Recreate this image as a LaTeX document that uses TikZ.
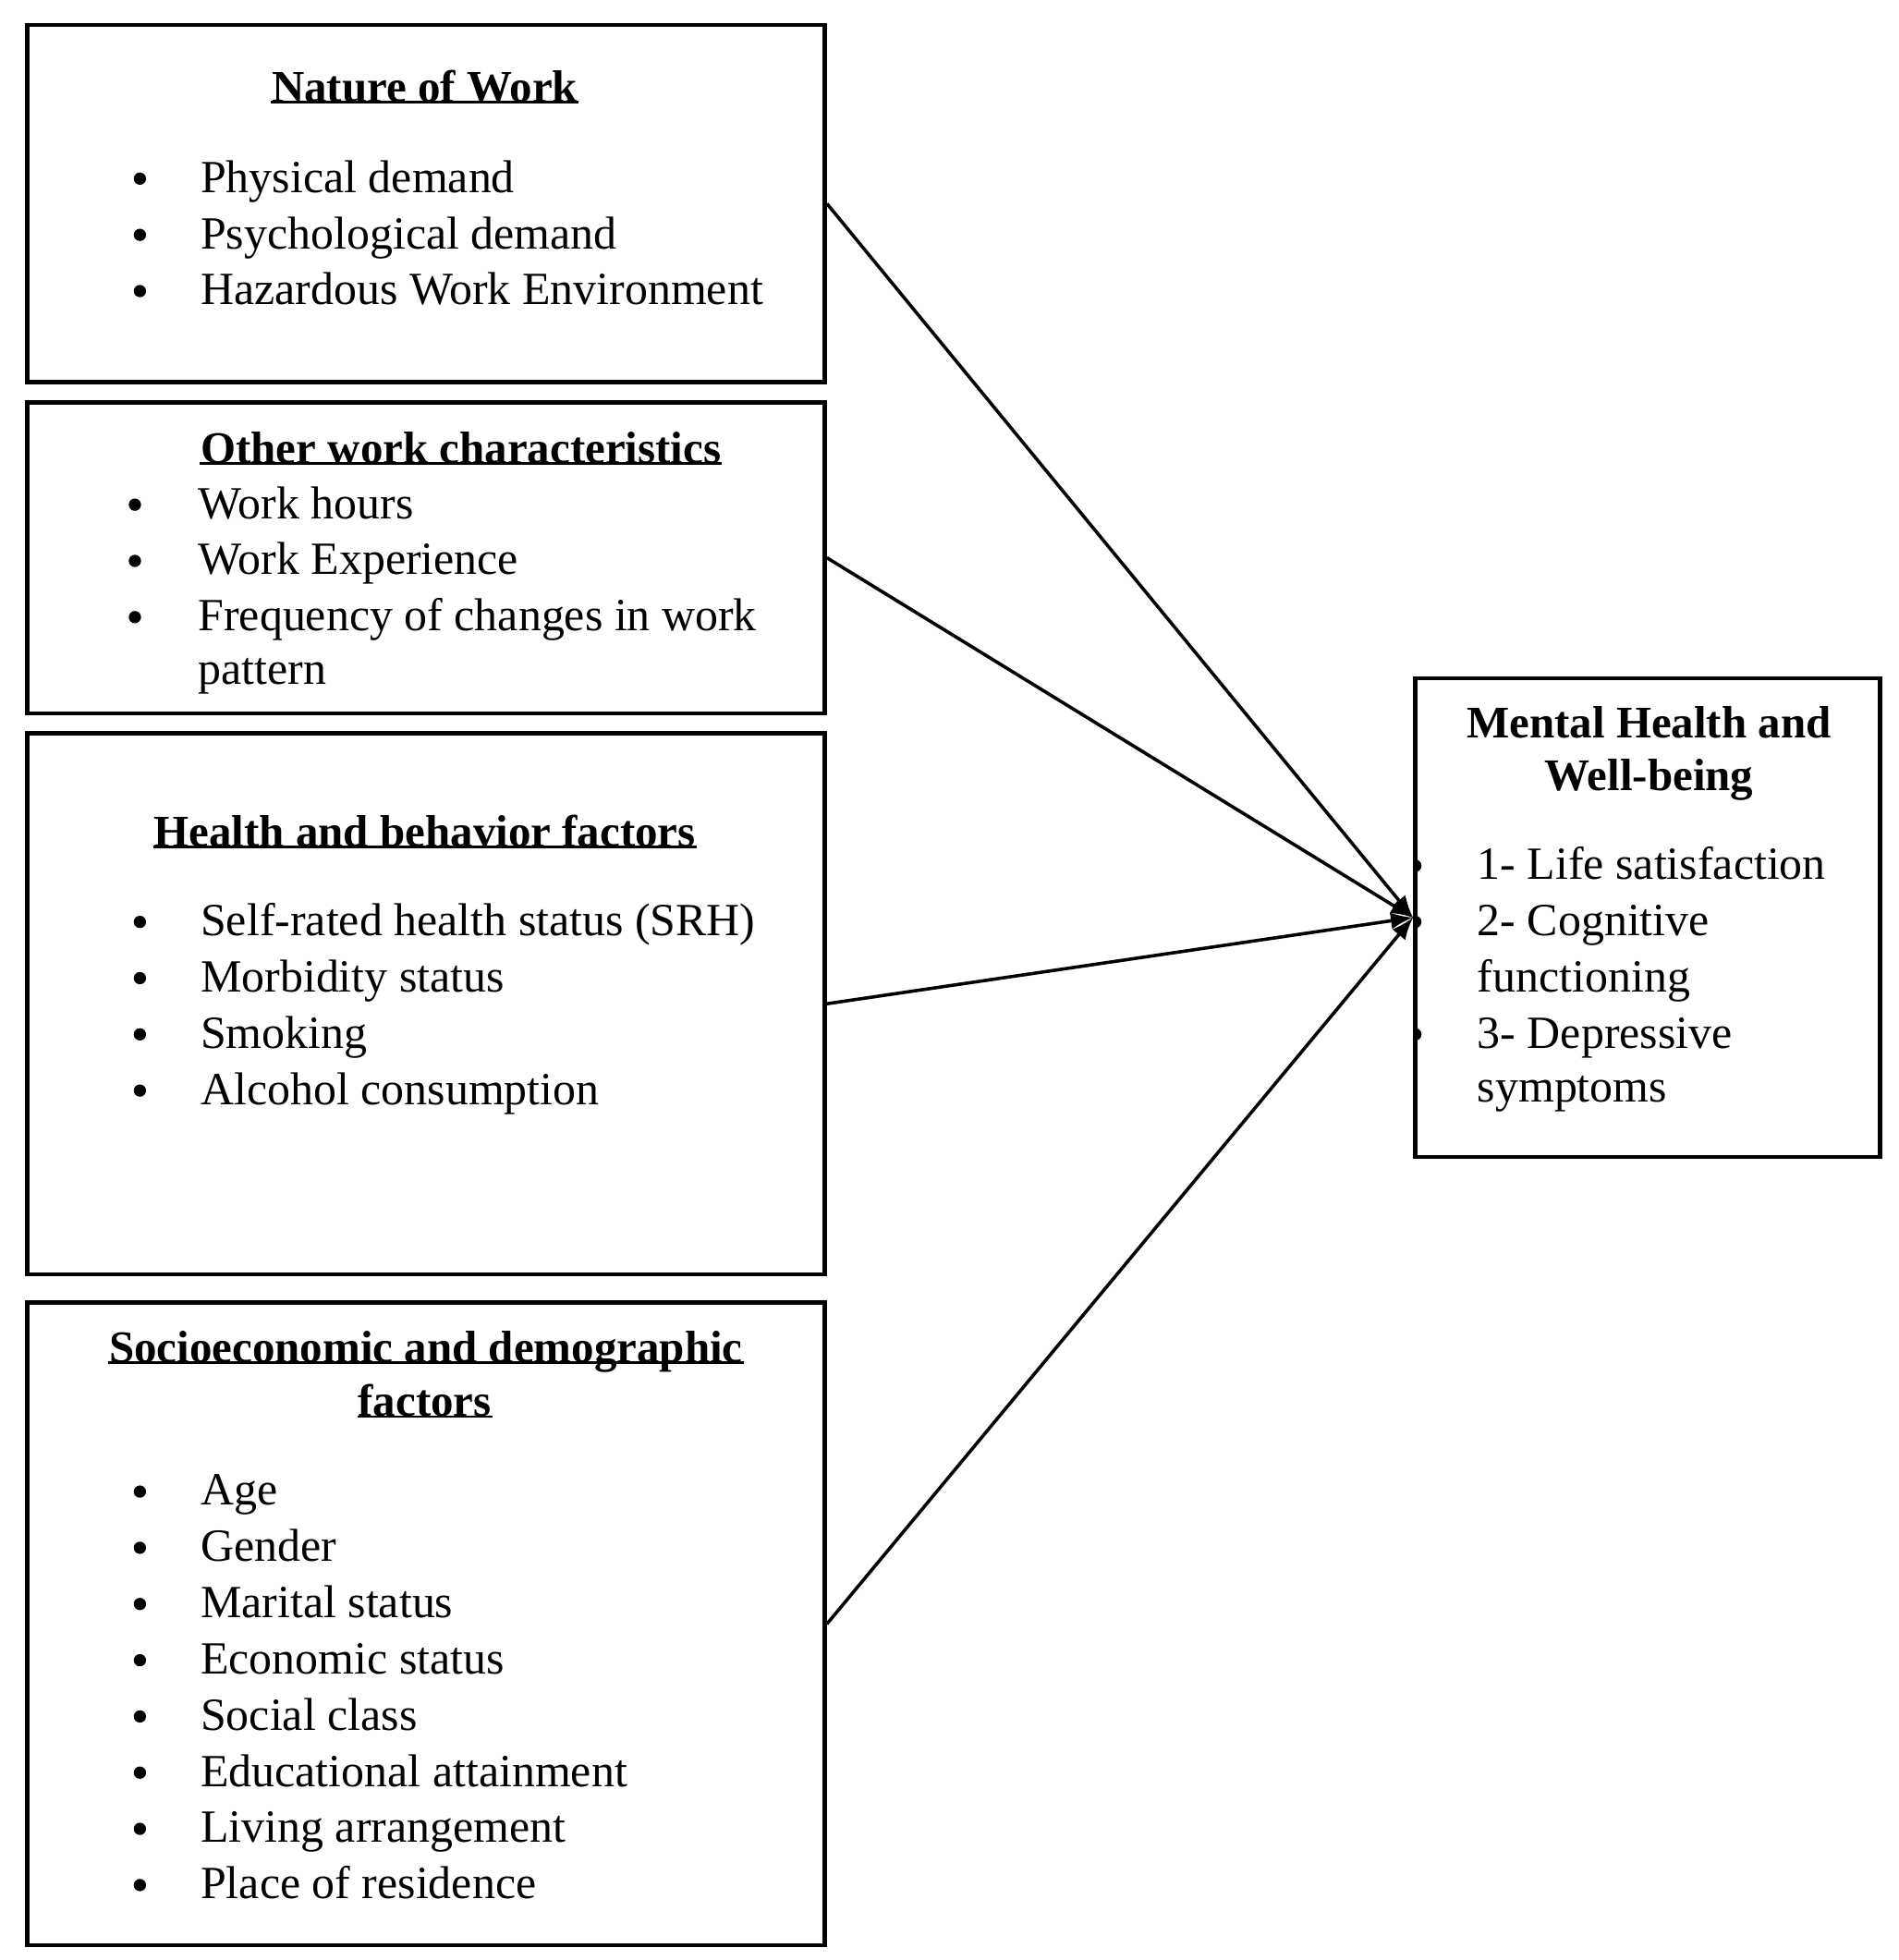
\documentclass[tikz,border=0pt]{standalone}
\usepackage{fontspec}
\setmainfont{Liberation Serif}
\usepackage{tikz}
\usetikzlibrary{arrows}

\begin{document}
\begin{tikzpicture}[x=0.01cm,y=-0.01cm,
    every node/.style={font=\fontsize{10.5}{12.8}\selectfont},
    box/.style={draw,line width=1pt,minimum width=6.38cm,inner sep=0pt},
    head/.style={anchor=base,inner sep=0pt,font=\fontsize{10.3}{12.8}\selectfont\bfseries},
    item/.style={anchor=base west,inner sep=0pt},
    dot/.style={circle,fill,inner sep=0pt,minimum size=2.8pt},
    uline/.style={line width=0.6pt,yshift=-1.8pt}]
              \useasboundingbox (0,0) rectangle (1520,1569);
              % left boxes
              \node[box,minimum height=2.86cm](a)at(341,163){};
              \node[box,minimum height=2.49cm](b)at(341,446.5){};
              \node[box,minimum height=4.33cm](c)at(341,803.5){};
              \node[box,minimum height=5.14cm](d)at(341,1300){};
              % right box
              \node[draw,line width=1pt,minimum width=3.72cm,minimum height=3.83cm,inner sep=0pt](e)at(1319,734.5){};
              % Nature of Work
              \node[head](a0)at(340,82){Nature of Work};
              \draw[uline] (a0.base west)--(a0.base east);
              \node[dot](a1)at(112,143){};
              \node[item](a2)at(160,154){Physical demand};
              \node[dot](a3)at(112,188){};
              \node[item](a4)at(160,199){Psychological demand};
              \node[dot](a5)at(112,233){};
              \node[item](a6)at(160,244){Hazardous Work Environment};
              % Other work characteristics
              \node[head](b0)at(369,371){Other work characteristics};
              \draw[uline] (b0.base west)--(b0.base east);
              \node[dot](b1)at(108,404){};
              \node[item](b2)at(158,415){Work hours};
              \node[dot](b3)at(108,449){};
              \node[item](b4)at(158,460){Work Experience};
              \node[dot](b5)at(108,494){};
              \node[item](b6)at(158,505){Frequency of changes in work};
              \node[item](b7)at(158,548){pattern};
              % Health and behavior factors
              \node[head](c0)at(340,678){Health and behavior factors};
              \draw[uline] (c0.base west)--(c0.base east);
              \node[dot](c1)at(112,738){};
              \node[item](c2)at(160,749){Self-rated health status (SRH)};
              \node[dot](c3)at(112,783){};
              \node[item](c4)at(160,794){Morbidity status};
              \node[dot](c5)at(112,828){};
              \node[item](c6)at(160,839){Smoking};
              \node[dot](c7)at(112,873){};
              \node[item](c8)at(160,884){Alcohol consumption};
              % Socioeconomic and demographic factors
              \node[head](d0)at(341,1091){Socioeconomic and demographic};
              \draw[uline] (d0.base west)--(d0.base east);
              \node[head](d00)at(340,1134){factors};
              \draw[uline] (d00.base west)--(d00.base east);
              \node[dot](d1)at(112,1194){};
              \node[item](d2)at(160,1205){Age};
              \node[dot](d3)at(112,1239){};
              \node[item](d4)at(160,1250){Gender};
              \node[dot](d5)at(112,1284){};
              \node[item](d6)at(160,1295){Marital status};
              \node[dot](d7)at(112,1329){};
              \node[item](d8)at(160,1340){Economic status};
              \node[dot](d9)at(112,1374){};
              \node[item](d10)at(160,1385){Social class};
              \node[dot](d11)at(112,1419){};
              \node[item](d12)at(160,1430){Educational attainment};
              \node[dot](d13)at(112,1464){};
              \node[item](d14)at(160,1475){Living arrangement};
              \node[dot](d15)at(112,1509){};
              \node[item](d16)at(160,1520){Place of residence};
              % Mental Health and Well-being
              \node[head](e0)at(1320,591){Mental Health and};
              \node[head](e00)at(1320,633){Well-being};
              \begin{scope}
              \clip (e.south west) rectangle (e.north east);
              \node[dot](e1)at(1133,693){};
              \node[dot](e3)at(1133,738){};
              \node[dot](e5)at(1133,828){};
              \end{scope}
              \node[item](e2)at(1182,704){1- Life satisfaction};
              \node[item](e4)at(1182,749){2- Cognitive};
              \node[item](e6)at(1182,794){functioning};
              \node[item](e7)at(1182,839){3- Depressive};
              \node[item](e8)at(1182,882){symptoms};
              % arrows
              \draw[-latex,line width=0.75pt] (a.east)--(e.west);
              \draw[-latex,line width=0.75pt] (b.east)--(e.west);
              \draw[-latex,line width=0.75pt] (c.east)--(e.west);
              \draw[-latex,line width=0.75pt] (d.east)--(e.west);
            \end{tikzpicture}
\end{document}
